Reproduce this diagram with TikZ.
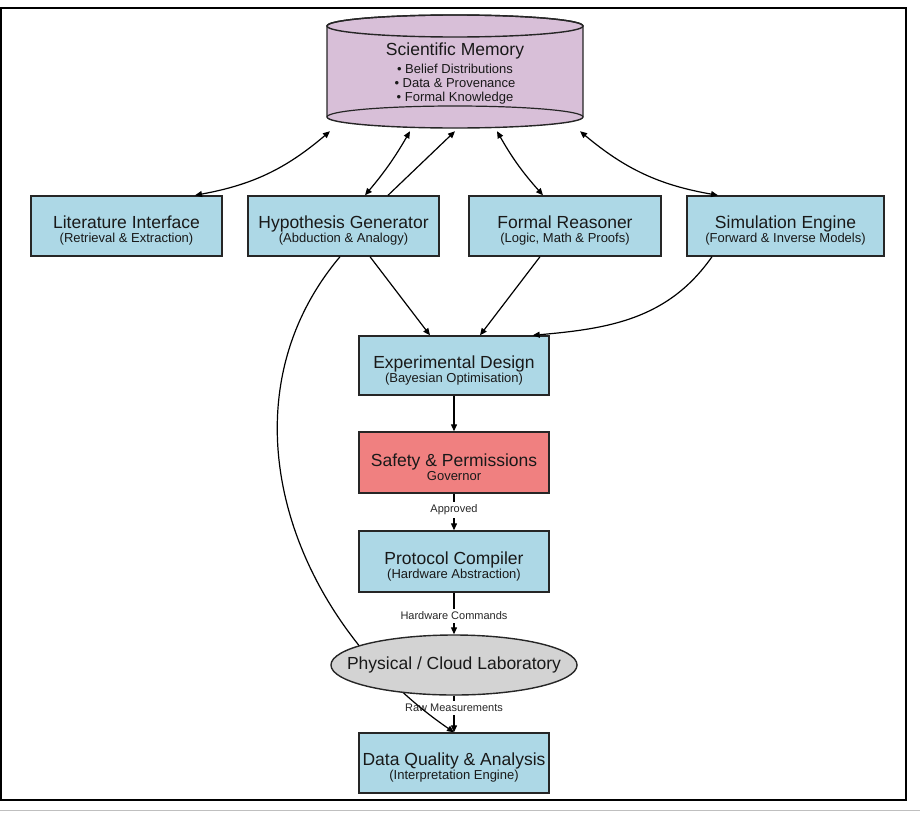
\documentclass[tikz,border=0pt]{standalone}
\usepackage{fontspec}
\setmainfont{Liberation Sans}
\usetikzlibrary{arrows.meta,shapes.geometric}
\definecolor{boxblue}{HTML}{ADD8E6}
\definecolor{memlilac}{HTML}{D8BFD8}
\definecolor{safered}{HTML}{F08080}
\definecolor{labgrey}{HTML}{D3D3D3}
\newcommand{\boxtext}[2]{\rule{0pt}{22pt}#1\\[-6pt]{\fontsize{13}{15}\selectfont #2}}
\tikzset{
  blockbox/.style={draw=black!85, line width=1.4pt, fill=boxblue, minimum width=190pt, minimum height=60pt, align=center, inner sep=0pt, text=black!90, font=\fontsize{17.5}{20}\selectfont},
  flow/.style={line width=1.2pt, -{Triangle[length=7pt,width=6pt]}},
  bothway/.style={line width=1.2pt, {Triangle[length=7pt,width=6pt]}-{Triangle[length=7pt,width=6pt]}},
  edgelbl/.style={font=\fontsize{11}{12}\selectfont, inner sep=3pt, text=black!85},
}
\begin{document}
\begin{tikzpicture}[x=1pt,y=1pt]
			%%%%% START %%%%%
			\useasboundingbox (0,0) rectangle (920,-830);
			\draw[line width=2pt] (1,-8) rectangle (906,-800);
			\draw[line width=0.8pt, color=black!25] (0,-810) -- (920,-810);
			
			\draw[line width=1.4pt, draw=black!85, fill=memlilac] (327,-26) -- (327,-117) arc[start angle=180, end angle=360, x radius=128, y radius=11] -- (583,-26) arc[start angle=0, end angle=180, x radius=128, y radius=11] -- cycle;
			\draw[line width=1.4pt, draw=black!85] (455,-26) ellipse[x radius=128, y radius=11];
			\draw[line width=1.2pt, draw=black!85] (327,-117) arc[start angle=180, end angle=0, x radius=128, y radius=11];
			\node[minimum width=257pt, minimum height=114pt, inner sep=0pt, align=center, text=black!90, font=\fontsize{13}{14}\selectfont] (memory) at (455,-74) {{\fontsize{17.5}{18}\selectfont Scientific Memory}\\[4pt]• Belief Distributions\\• Data \& Provenance\\• Formal Knowledge};
			
			\node[blockbox, minimum width=191pt] (lit) at (126.5,-226) {\boxtext{Literature Interface}{(Retrieval \& Extraction)}};
			\node[blockbox, minimum width=191pt] (hyp) at (343.5,-226) {\boxtext{Hypothesis Generator}{(Abduction \& Analogy)}};
			\node[blockbox, minimum width=192pt] (formal) at (565,-226) {\boxtext{Formal Reasoner}{(Logic, Math \& Proofs)}};
			\node[blockbox, minimum width=197pt] (sim) at (785.5,-226) {\boxtext{Simulation Engine}{(Forward \& Inverse Models)}};
			
			\node[blockbox, minimum height=59pt] (exp) at (454,-365.5) {\boxtext{Experimental Design}{(Bayesian Optimisation)}};
			\node[blockbox, fill=safered, minimum height=61pt] (safety) at (454,-462.5) {\boxtext{Safety \& Permissions}{Governor}};
			\node[blockbox, minimum height=61pt] (proto) at (454,-561.5) {\boxtext{Protocol Compiler}{(Hardware Abstraction)}};
			\node[blockbox] (dq) at (454,-763) {\boxtext{Data Quality \& Analysis}{(Interpretation Engine)}};
			
			\node[edgelbl] (approved) at (454,-510) {Approved};
			\node[edgelbl] (hwcmd) at (454,-616) {Hardware Commands};
			\node[edgelbl] (rawmeas) at (454,-708) {Raw Measurements};
			
			\draw[flow] ([xshift=-3.5pt]hyp.south) .. controls (215,-405) and (290,-620) .. (dq.north);
			
			\node[ellipse, draw=black!85, line width=1.4pt, fill=labgrey, minimum width=246pt, minimum height=60pt, inner xsep=-20pt, inner ysep=0pt, text=black!90, font=\fontsize{17.5}{20}\selectfont] (lab) at (454,-665) {Physical / Cloud Laboratory};
			
			\draw[bothway] ([xshift=-125pt]memory.south) to[bend left=15] ([xshift=68.5pt]lit.north);
			\draw[bothway] ([xshift=-45pt]memory.south) to[bend left=5] ([xshift=21.5pt]hyp.north);
			\draw[flow] ([xshift=44.5pt]hyp.north) -- (memory.south);
			\draw[bothway] ([xshift=42pt]memory.south) to[bend right=6] ([xshift=-22pt]formal.north);
			\draw[bothway] ([xshift=125pt]memory.south) to[bend right=15] ([xshift=-67.5pt]sim.north);
			
			\draw[flow] ([xshift=26.5pt]hyp.south) -- ([xshift=-24pt]exp.north);
			\draw[flow] ([xshift=-25pt]formal.south) -- ([xshift=26pt]exp.north);
			\draw[flow] ([xshift=-73.5pt]sim.south) to[out=-125, in=5] ([xshift=-17pt]exp.north east);
			
			\draw[flow] (exp) -- (safety);
			\draw[line width=1.2pt] (safety) -- (approved);
			\draw[flow] (approved) -- (proto);
			\draw[line width=1.2pt] (proto) -- (hwcmd);
			\draw[flow] (hwcmd) -- (lab);
			\draw[line width=1.2pt] (lab) -- (rawmeas);
			\draw[flow] (rawmeas) -- (dq);
			%%%%% END %%%%%
\end{tikzpicture}
\end{document}
